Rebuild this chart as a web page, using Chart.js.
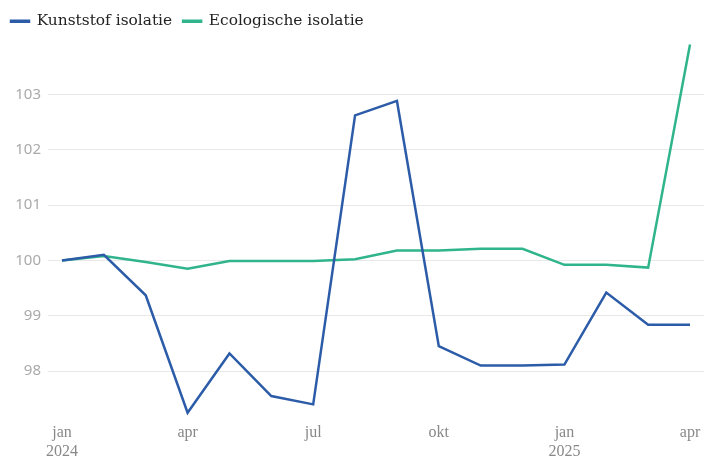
<!DOCTYPE html>
<html>
<head>
<meta charset="utf-8">
<script src="https://cdn.jsdelivr.net/npm/chart.js@4.4.0/dist/chart.umd.min.js"></script>
<style>
  html, body { margin: 0; padding: 0; background: #fff; }
  #wrap { width: 704px; height: 460px; }
</style>
</head>
<body>
<div id="wrap"><canvas id="myChart"></canvas></div>
<script>
const months = ["jan", "feb", "mrt", "apr", "mei", "jun", "jul", "aug", "sep", "okt", "nov", "dec", "jan", "feb", "mrt", "apr"];
const years = ["2024", "", "", "", "", "", "", "", "", "", "", "", "2025", "", "", ""];
const kunststof = [100.0, 100.1, 99.37, 97.25, 98.32, 97.55, 97.4, 102.62, 102.88, 98.45, 98.1, 98.1, 98.12, 99.42, 98.84, 98.84];
const ecologisch = [100.0, 100.08, 99.97, 99.85, 99.99, 99.99, 99.99, 100.02, 100.18, 100.18, 100.21, 100.21, 99.92, 99.92, 99.87, 103.9];
const xTicks = [0, 3, 6, 9, 12, 15];
const yTicks = [98, 99, 100, 101, 102, 103];

const blue = "#2c5ca8";
const green = "#2fb48c";

function toPoints(values) {
  return values.map((v, i) => ({ x: i, y: v }));
}

const ctx = document.getElementById("myChart").getContext("2d");
new Chart(ctx, {
  type: "line",
  data: {
    datasets: [
      {
        label: "Kunststof isolatie",
        data: toPoints(kunststof),
        borderColor: blue,
        backgroundColor: blue,
        borderWidth: 2.5,
        pointRadius: 0,
        tension: 0,
      },
      {
        label: "Ecologische isolatie",
        data: toPoints(ecologisch),
        borderColor: green,
        backgroundColor: green,
        borderWidth: 2.5,
        pointRadius: 0,
        tension: 0,
      },
    ],
  },
  options: {
    responsive: true,
    maintainAspectRatio: false,
    animation: false,
    layout: { padding: { left: 0, right: 0, top: 2.5, bottom: 0 } },
    plugins: {
      legend: {
        position: "top",
        align: "start",
        labels: {
          boxWidth: 18,
          boxHeight: 1,
          padding: 11,
          color: "#222",
          font: { family: "DejaVu Serif", size: 15.4 },
        },
      },
      tooltip: { enabled: false },
    },
    scales: {
      x: {
        type: "linear",
        min: -0.334,
        max: 15.334,
        grid: { display: false, drawTicks: false },
        border: { display: false },
        afterBuildTicks: (axis) => {
          axis.ticks = xTicks.map((v) => ({ value: v }));
        },
        afterFit: (axis) => {
          axis.height = 39;
        },
        ticks: {
          color: "#888",
          padding: 2,
          maxRotation: 0,
          font: { family: "Liberation Serif", size: 16, lineHeight: 1.2 },
          callback: (v) => (years[v] ? [months[v], years[v]] : months[v]),
        },
      },
      y: {
        min: 97.1,
        max: 104,
        grid: { color: "#e8e8e8", drawTicks: false },
        border: { display: false },
        afterBuildTicks: (axis) => {
          axis.ticks = yTicks.map((v) => ({ value: v }));
        },
        afterFit: (axis) => {
          axis.width = 48;
        },
        ticks: {
          color: "#aaa",
          padding: 7,
          font: { family: "Noto Sans", size: 15 },
        },
      },
    },
  },
});
</script>
</body>
</html>
